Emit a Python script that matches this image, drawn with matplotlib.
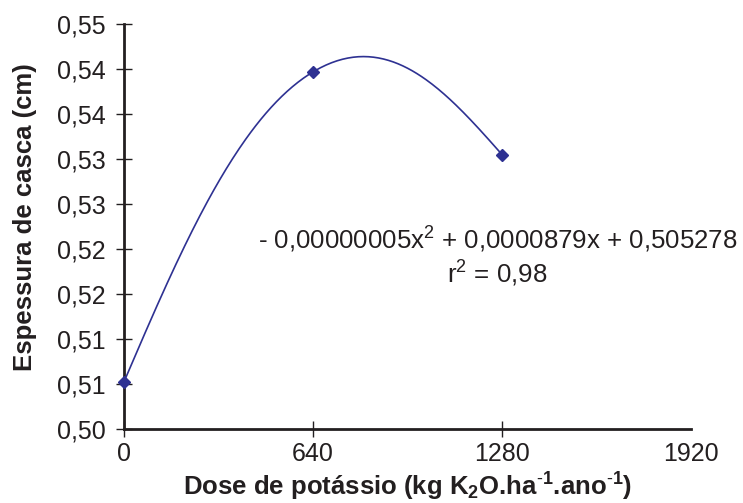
import numpy as np
import matplotlib
matplotlib.use("Agg")
import matplotlib.pyplot as plt

# Data
dose = [0, 640, 1280]
espessura = [0.5052, 0.5397, 0.5305]
xticks = [0, 640, 1280, 1920]
xtick_labels = ["0", "640", "1280", "1920"]
yticks = [0.500, 0.505, 0.510, 0.515, 0.520, 0.525, 0.530, 0.535, 0.540, 0.545]
ytick_labels = ["0,50", "0,51", "0,51", "0,52", "0,52", "0,53", "0,53", "0,54", "0,54", "0,55"]
equation = "- 0,00000005x$^2$ + 0,0000879x + 0,505278"
r2_text = "r$^2$ = 0,98"

plt.rcParams['font.family'] = ['Liberation Sans', 'DejaVu Sans']
plt.rcParams['mathtext.fontset'] = 'custom'
plt.rcParams['mathtext.rm'] = 'Liberation Sans'
plt.rcParams['mathtext.it'] = 'Liberation Sans:italic'
plt.rcParams['mathtext.bf'] = 'Liberation Sans:bold'

COL = '#2E3192'
AX = '#231f20'


def smooth(xs, ys, k=0.2, n=120):
    """Spreadsheet-style smoothed line (cubic Bezier through the points)."""
    P = np.column_stack([xs, ys]).astype(float)
    m = len(P)
    outx, outy = [], []
    tang = []
    for i in range(m):
        if 0 < i < m - 1:
            tang.append(k * (P[i + 1] - P[i - 1]))
        else:
            tang.append(None)
    t = np.linspace(0, 1, n)
    for i in range(m - 1):
        p0, p3 = P[i], P[i + 1]
        c1 = p0 + tang[i] if tang[i] is not None else None
        c2 = p3 - tang[i + 1] if tang[i + 1] is not None else None
        if c1 is None and c2 is None:
            c1 = p0 + (p3 - p0) / 3
            c2 = p3 - (p3 - p0) / 3
        elif c1 is None:
            c1 = (p0 + c2) / 2
        elif c2 is None:
            c2 = (p3 + c1) / 2
        b = ((1 - t) ** 3)[:, None] * p0 + (3 * (1 - t) ** 2 * t)[:, None] * c1 \
            + (3 * (1 - t) * t ** 2)[:, None] * c2 + (t ** 3)[:, None] * p3
        outx.extend(b[:, 0]); outy.extend(b[:, 1])
    return np.array(outx), np.array(outy)


fig = plt.figure(figsize=(7.43, 5.03), dpi=100)
ax = fig.add_axes([124 / 743, 1 - 428.5 / 503, (691 - 124) / 743, (428.5 - 24.3) / 503])

sx, sy = smooth(dose, espessura)
ax.plot(sx, sy, color=COL, lw=1.2, clip_on=False, zorder=3)
ax.plot(dose, espessura, linestyle='none', marker='D', ms=6.5, color=COL, clip_on=False, zorder=4)

ax.set_xlim(0, 1920)
ax.set_ylim(0.500, 0.545)
ax.set_xticks(xticks)
ax.set_xticklabels(xtick_labels)
ax.set_yticks(yticks)
ax.set_yticklabels(ytick_labels)

for s in ['top', 'right']:
    ax.spines[s].set_visible(False)
for s in ['left', 'bottom']:
    ax.spines[s].set_linewidth(2.0)
    ax.spines[s].set_color(AX)

ax.tick_params(axis='both', direction='inout', length=12, width=1.0, color=AX,
               labelsize=18, labelcolor='#231f20')
ax.tick_params(axis='y', pad=7.5)
ax.tick_params(axis='x', pad=4)
ax.xaxis.get_major_ticks()[-1].tick1line.set_visible(False)

fig.text(408 / 743, 1 - 487 / 503,
         "Dose de potássio (kg K$_\\mathbf{2}$O.ha$^{\\text{-}\\mathbf{1}}$.ano$^{\\text{-}\\mathbf{1}}$)",
         ha='center', va='center', fontsize=18.5, fontweight='bold', color='#231f20')
fig.text(25 / 743, 1 - 217 / 503, "Espessura de casca (cm)", rotation=90,
         ha='center', va='center', fontsize=18.5, fontweight='bold', color='#231f20')

fig.text(498 / 743, 1 - 240 / 503, equation, ha='center', va='center', fontsize=18.6, color='#231f20')
fig.text(497 / 743, 1 - 274 / 503, r2_text, ha='center', va='center', fontsize=18.6, color='#231f20')

fig.savefig('out.png', dpi=100)
